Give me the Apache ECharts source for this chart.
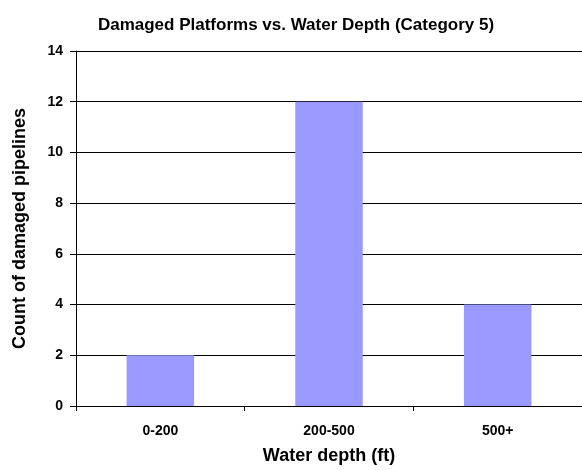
<!DOCTYPE html>
<html><head><meta charset="utf-8">
<script src="https://cdn.jsdelivr.net/npm/echarts@6/dist/echarts.min.js"></script>
<style>html,body{margin:0;padding:0;background:#fff}#c{width:582px;height:470px}</style>
</head><body><div id="c"></div>
<script>
const categories = ['0-200', '200-500', '500+'];
const counts = [2, 12, 4];
const yTicks = [0, 2, 4, 6, 8, 10, 12, 14];

const chart = echarts.init(document.getElementById('c'), null, {renderer: 'canvas'});
const font = 'Liberation Sans, Arial, sans-serif';
chart.setOption({
  animation: false,
  title: {
    text: 'Damaged Platforms vs. Water Depth (Category 5)',
    left: 291, top: 12, textAlign: 'center',
    textStyle: {fontFamily: font, fontWeight: 'bold', fontSize: 17, color: '#000'}
  },
  grid: {left: 76, right: -7, top: 51, bottom: 60, containLabel: false},
  xAxis: {
    type: 'category', data: categories,
    name: 'Water depth (ft)', nameLocation: 'middle', nameGap: 41,
    nameTextStyle: {fontFamily: font, fontWeight: 'bold', fontSize: 18, color: '#000'},
    axisLine: {lineStyle: {color: '#000', width: 1}},
    axisTick: {show: true, alignWithLabel: false, length: 5, lineStyle: {color: '#000'}},
    axisLabel: {fontFamily: font, fontWeight: 'bold', fontSize: 14, color: '#000', margin: 18}
  },
  yAxis: {
    type: 'value', min: yTicks[0], max: yTicks[yTicks.length - 1], interval: 2,
    name: 'Count of damaged pipelines', nameLocation: 'middle', nameGap: 47, nameRotate: 90,
    nameTextStyle: {fontFamily: font, fontWeight: 'bold', fontSize: 18, color: '#000'},
    axisLine: {show: true, lineStyle: {color: '#000', width: 1}},
    axisTick: {show: true, length: 6, lineStyle: {color: '#000'}},
    axisLabel: {fontFamily: font, fontWeight: 'bold', fontSize: 14, color: '#000', margin: 13},
    splitLine: {show: true, lineStyle: {color: '#000', width: 1}}
  },
  series: [{
    type: 'bar', data: counts, barCategoryGap: '60%',
    itemStyle: {color: '#9999FF'}
  }]
});
</script></body></html>
